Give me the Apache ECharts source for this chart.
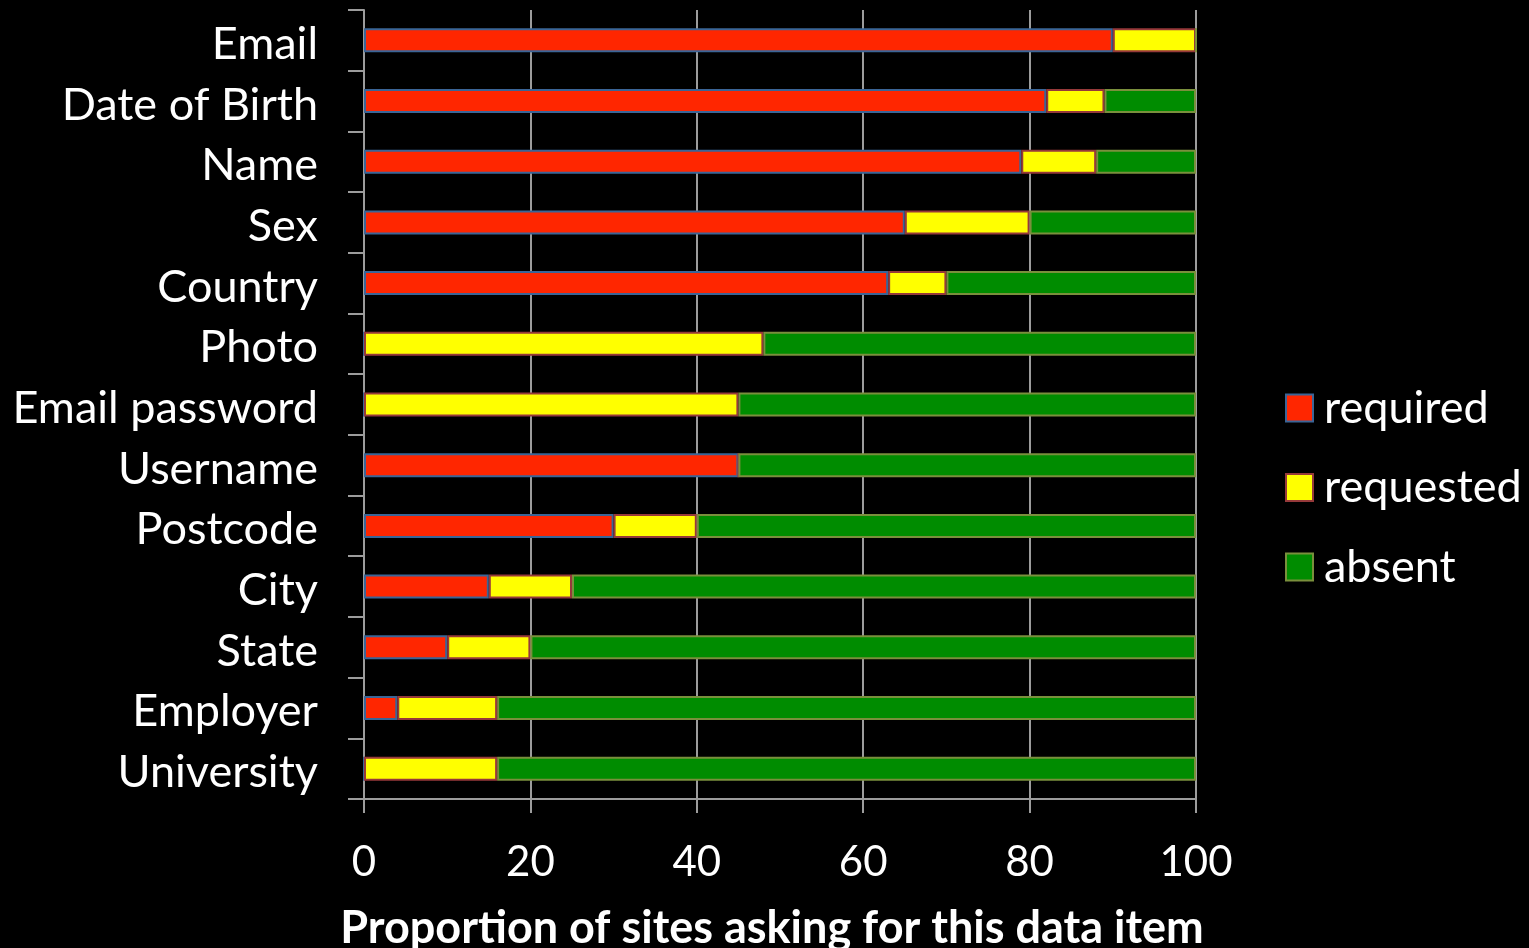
<!DOCTYPE html>
<html>
<head>
<meta charset="utf-8">
<script src="https://cdn.jsdelivr.net/npm/echarts@6/dist/echarts.min.js"></script>
<style>
  html, body { margin: 0; padding: 0; background: #000; }
  #chart { width: 1529px; height: 948px; }
</style>
</head>
<body>
<div id="chart"></div>
<script>
// Data items, top to bottom
const categories = ['Email', 'Date of Birth', 'Name', 'Sex', 'Country', 'Photo',
  'Email password', 'Username', 'Postcode', 'City', 'State', 'Employer', 'University'];
// Share of sites (%) for each status
const required  = [90, 82, 79, 65, 63, 0, 0, 45, 30, 15, 10, 4, 0];
const requested = [10, 7, 9, 15, 7, 48, 45, 0, 10, 10, 10, 12, 16];
const absent    = [0, 11, 12, 20, 30, 52, 55, 55, 60, 75, 80, 84, 84];
const xTicks = [0, 20, 40, 60, 80, 100];

const FONT = 'Lato';
const GRID_COLOR = '#9c9c9c';

const chart = echarts.init(document.getElementById('chart'));

function barSeries(name, data, fill, border) {
  return {
    name: name,
    type: 'bar',
    stack: 'all',
    data: data,
    barWidth: 24,
    itemStyle: { color: fill, borderColor: border, borderWidth: 2 },
    emphasis: { disabled: true }
  };
}

chart.setOption({
  backgroundColor: '#000',
  animation: false,
  textStyle: { fontFamily: FONT },
  grid: { left: 364, right: 333, top: 10, bottom: 149, outerBoundsMode: 'none', containLabel: false },
  legend: {
    orient: 'vertical',
    left: 1285,
    top: 383,
    padding: 0,
    itemWidth: 27,
    itemHeight: 27,
    itemGap: 29.5,
    icon: 'rect',
    data: ['required', 'requested', 'absent'],
    textStyle: { color: '#fff', fontSize: 45, fontFamily: FONT, lineHeight: 48, padding: [2, 0, 0, 6] }
  },
  xAxis: {
    type: 'value',
    min: xTicks[0],
    max: xTicks[xTicks.length - 1],
    interval: 20,
    name: 'Proportion of sites asking for this data item',
    nameLocation: 'middle',
    nameGap: 107,
    nameTextStyle: { color: '#fff', fontSize: 45, fontWeight: 'bold', fontFamily: FONT, padding: [0, 16, 0, 0] },
    axisLine: { show: true, lineStyle: { color: GRID_COLOR, width: 2 } },
    axisTick: { show: true, length: 14, lineStyle: { color: GRID_COLOR, width: 2 } },
    axisLabel: { color: '#fff', fontSize: 42, margin: 42, fontFamily: FONT },
    splitLine: { show: true, lineStyle: { color: GRID_COLOR, width: 2 } }
  },
  yAxis: {
    type: 'category',
    data: categories,
    inverse: true,
    axisLine: { show: true, lineStyle: { color: GRID_COLOR, width: 2 } },
    axisTick: { show: true, length: 16, lineStyle: { color: GRID_COLOR, width: 2 } },
    axisLabel: {
      margin: 46,
      formatter: function (v) { return '{c|' + v + '}'; },
      rich: {
        c: { color: '#fff', fontSize: 45, fontFamily: FONT, lineHeight: 45, padding: [8, 0, 0, 0] }
      }
    },
    splitLine: { show: false }
  },
  series: [
    barSeries('required', required, '#ff2600', '#3a6597'),
    barSeries('requested', requested, '#ffff00', '#96393a'),
    barSeries('absent', absent, '#008c00', '#7a8f3c')
  ]
});
</script>
</body>
</html>
